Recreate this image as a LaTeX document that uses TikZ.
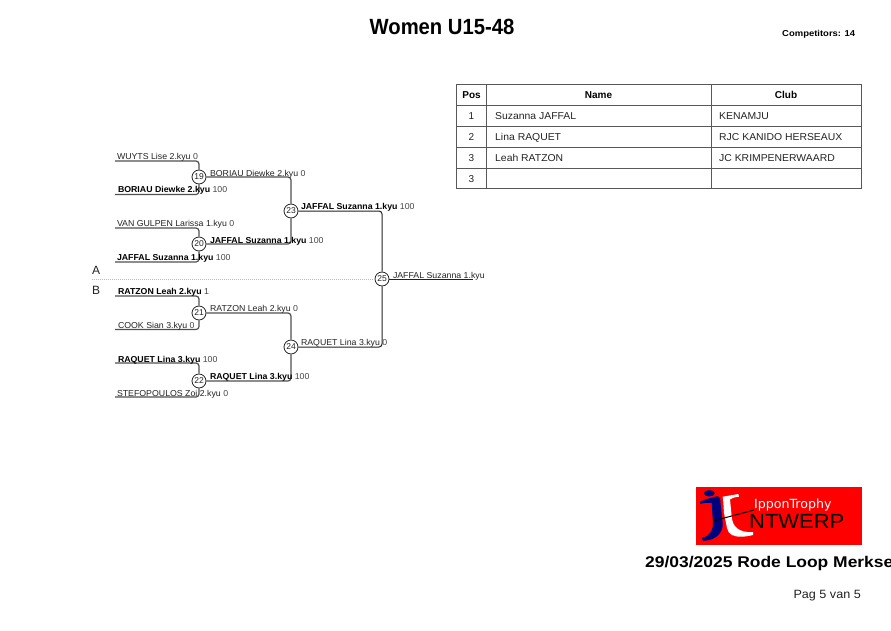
\documentclass[tikz,border=0pt]{standalone}
\usepackage{fontspec}
\setmainfont{Liberation Sans}
\newfontfamily\dejavu{DejaVu Sans}
\definecolor{lbl}{HTML}{222222}
\definecolor{scr}{HTML}{444444}
\definecolor{ln1}{HTML}{505050}
\definecolor{ln2}{HTML}{222222}
\definecolor{tbl}{HTML}{585858}
\definecolor{logored}{HTML}{FF0000}
\definecolor{logoblue}{HTML}{00007F}
\newcommand{\fsz}[1]{\fontsize{#1}{#1}\selectfont}
\newcommand{\plainlab}[2]{\textcolor{lbl}{#1}\ \textcolor{scr}{#2}}
\newcommand{\boldlab}[2]{\textcolor{black}{\bfseries #1}\ \textcolor{scr}{#2}}
\tikzset{
  x=1pt,y=-1pt,
  lab/.style={anchor=base west,inner sep=0pt,outer sep=0pt,font=\fsz{8.6},xscale=1.02},
  match/.style={circle,draw=ln2,fill=white,line width=.8pt,minimum size=14pt,inner sep=0pt,font=\fsz{8.5},text=lbl},
  r1/.style={draw=ln1,line width=1.2pt,rounded corners=3pt},
  r2/.style={draw=ln2,line width=1pt,rounded corners=3pt},
  cell/.style={inner sep=0pt,anchor=base,font=\fsz{10},text=lbl},
  celll/.style={inner sep=0pt,anchor=base west,font=\fsz{10},text=lbl,xscale=1.04},
  head/.style={inner sep=0pt,anchor=base,font=\fsz{10}\bfseries,text=black},
  grid/.style={draw=tbl,line width=1pt},
}
\begin{document}
\begin{tikzpicture}
\useasboundingbox (0,0) rectangle (891,630);
% titles
\node[inner sep=0pt,anchor=base,font=\fsz{22}\bfseries,xscale=.92] (title) at (442,34) {Women U15-48};
\node[inner sep=0pt,anchor=base west,font=\fsz{8.6}\bfseries,xscale=1.1] (comp) at (782,36) {Competitors: 14};
% table
\coordinate (t1) at (456.5,84.5); \coordinate (t2) at (861,188);
\draw[grid] (t1) rectangle (t2);
\draw[grid] (486,84.5) coordinate (va) -- (va |- t2);
\draw[grid] (711,84.5) coordinate (vb) -- (vb |- t2);
\foreach \yy in {105,126,147,168}{\draw[grid] (t1 |- 0,\yy) -- (t2 |- 0,\yy);}
\node[head] (hp) at (471.5,98) {Pos};
\node[head] (hn) at (598.5,98) {Name};
\node[head] (hc) at (786,98) {Club};
\node[cell] (p1) at (471.5,119) {1};
\node[cell] (p2) at (471.5,140) {2};
\node[cell] (p3) at (471.5,161) {3};
\node[cell] (p4) at (471.5,182) {3};
\node[celll] (n1) at (495,119) {Suzanna JAFFAL};
\node[celll] (n2) at (495,140) {Lina RAQUET};
\node[celll] (n3) at (495,161) {Leah RATZON};
\node[celll] (c1) at (719,119) {KENAMJU};
\node[celll] (c2) at (719,140) {RJC KANIDO HERSEAUX};
\node[celll] (c3) at (719,161) {JC KRIMPENERWAARD};
% A/B divider
\node[inner sep=0pt,anchor=base west,font=\fsz{12},text=lbl] (secA) at (92,274) {A};
\node[inner sep=0pt,anchor=base west,font=\fsz{12},text=lbl] (secB) at (92,294) {B};
\coordinate (ds) at (92,279);
% match nodes
\node[match] (m19) at (199,177) {19};
\node[match] (m20) at (199,244) {20};
\node[match] (m21) at (199,313) {21};
\node[match] (m22) at (199,381) {22};
\node[match] (m23) at (291,211) {23};
\node[match] (m24) at (291,347) {24};
\node[match] (m25) at (382,279) {25};
\draw[draw=gray!55,line width=1pt,densely dotted] (ds) -- (m25.west);
% entry points
\coordinate (e1) at (115,161); \coordinate (e2) at (115,194.5);
\coordinate (e3) at (115,228); \coordinate (e4) at (115,262);
\coordinate (e5) at (115,296); \coordinate (e6) at (115,329.5);
\coordinate (e7) at (115,363); \coordinate (e8) at (115,397);
\coordinate (fin) at (473,279);
% connectors
\draw[r1] (e1) -| (m19.north);
\draw[r1] (e2) -| (m19.south);
\draw[r1] (e3) -| (m20.north);
\draw[r1] (e4) -| (m20.south);
\draw[r1] (e5) -| (m21.north);
\draw[r1] (e6) -| (m21.south);
\draw[r1] (e7) -| (m22.north);
\draw[r1] (e8) -| (m22.south);
\draw[r1] (m19.east) -| (m23.north);
\draw[r1] (m20.east) -| (m23.south);
\draw[r1] (m21.east) -| (m24.north);
\draw[r1] (m22.east) -| (m24.south);
\draw[r2] (m23.east) -| (m25.north);
\draw[r2] (m24.east) -| (m25.south);
\draw[r2] (m25.east) -- (fin);
% competitor labels
\node[lab] (l1) at (117,159) {\plainlab{WUYTS Lise 2.kyu}{0}};
\node[lab] (l2) at (118,192.5) {\boldlab{BORIAU Diewke 2.kyu}{100}};
\node[lab] (l3) at (117,226) {\plainlab{VAN GULPEN Larissa 1.kyu}{0}};
\node[lab] (l4) at (117,260) {\boldlab{JAFFAL Suzanna 1.kyu}{100}};
\node[lab] (l5) at (118,294) {\boldlab{RATZON Leah 2.kyu}{1}};
\node[lab] (l6) at (118,328) {\plainlab{COOK Sian 3.kyu}{0}};
\node[lab] (l7) at (118,362) {\boldlab{RAQUET Lina 3.kyu}{100}};
\node[lab] (l8) at (117,396) {\plainlab{STEFOPOULOS Zoi 2.kyu}{0}};
\node[lab] (l9) at (210,176) {\plainlab{BORIAU Diewke 2.kyu}{0}};
\node[lab] (l10) at (210,243) {\boldlab{JAFFAL Suzanna 1.kyu}{100}};
\node[lab] (l11) at (210,311) {\plainlab{RATZON Leah 2.kyu}{0}};
\node[lab] (l12) at (210,379) {\boldlab{RAQUET Lina 3.kyu}{100}};
\node[lab] (l13) at (301,209) {\boldlab{JAFFAL Suzanna 1.kyu}{100}};
\node[lab] (l14) at (301,345) {\plainlab{RAQUET Lina 3.kyu}{0}};
\node[lab] (l15) at (393,278) {\plainlab{JAFFAL Suzanna 1.kyu}{}};
% logo
\fill[logored] (696,487) rectangle (862,545);
\fill[logoblue] (709.3,493.3) ellipse [x radius=5.5,y radius=3.2];
\fill[logoblue] (700,501.7) .. controls (706,498.5) and (712,498) .. (717.3,496) -- (720,498) -- (722.7,523) .. controls (723.5,532) and (716,541) .. (703,540.7) -- (701.7,538) .. controls (708,537) and (713,532) .. (713,523) -- (711.7,503) .. controls (707,502.5) and (703,503) .. (700,504) -- cycle;
\fill[white] (722.7,496.7) -- (738.3,494) -- (739,496.7) .. controls (735,497) and (732,498) .. (730,499.3) -- (731.7,516.7) .. controls (732.5,526) and (738,533) .. (753,532) -- (753,535) .. controls (745,537) and (736.7,537.5) .. (732,535) .. controls (729,533) and (727.5,531) .. (727,528) -- (724,513) -- (723.3,501.7) -- cycle;
\draw[black,line width=1pt] (714,520.7) coordinate (bar1) -- (754,510) coordinate (bar2);
\node[inner sep=0pt,anchor=base west,font=\dejavu\fsz{12.6},text=white] (lg1) at (754,508) {IpponTrophy};
\node[inner sep=0pt,anchor=base west,font=\fsz{20.5},text=black,xscale=1.07] (lg2) at (749,528) {NTWERP};
% footer
\node[inner sep=0pt,anchor=base west,font=\fsz{15.5}\bfseries,xscale=1.125] (date) at (645,567) {29/03/2025 Rode Loop Merkse};
\node[inner sep=0pt,anchor=base east,font=\fsz{12},text=lbl,xscale=1.05] (page) at (861,598) {Pag 5 van 5};
\end{tikzpicture}
\end{document}
